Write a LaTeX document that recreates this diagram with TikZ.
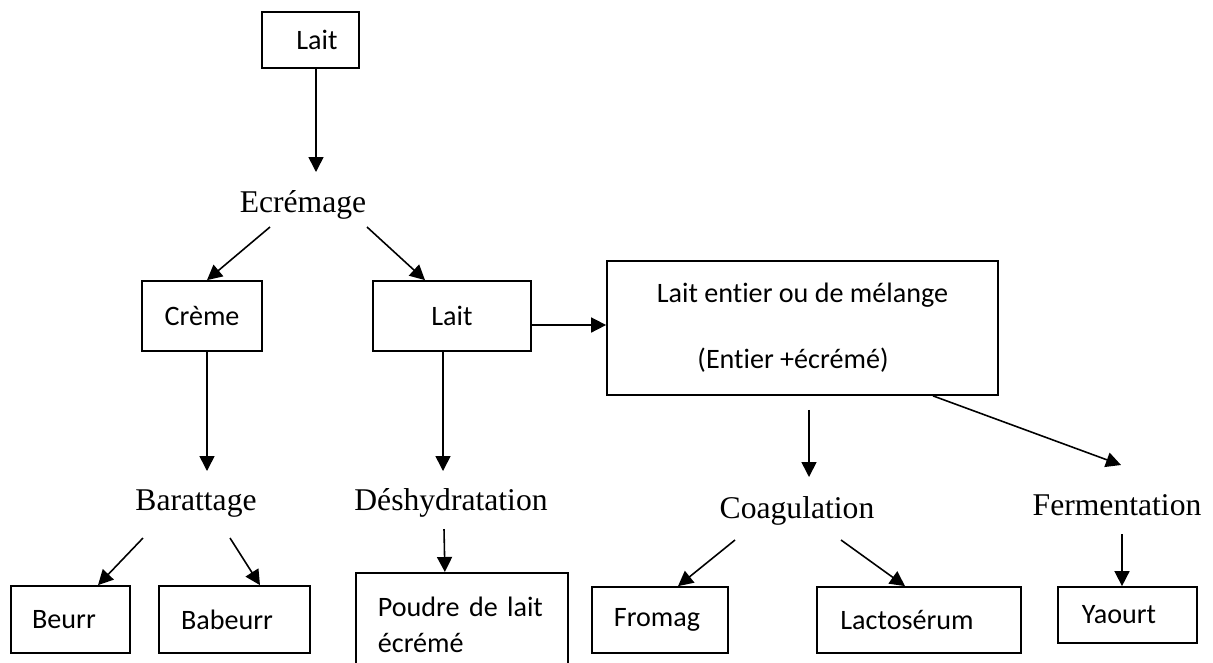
\documentclass[tikz,border=0pt]{standalone}
\usepackage{fontspec}
\setmainfont{Carlito}[Ligatures=NoCommon]
\newfontfamily\serif{Liberation Serif}
\usepackage{tikz}
\usetikzlibrary{arrows.meta,positioning}
\definecolor{ink}{HTML}{000000}
\tikzset{
  box/.style={draw=ink,line width=1pt,inner sep=0pt,align=center,font=\fontsize{16}{20}\selectfont},
  lbl/.style={inner sep=0pt,anchor=base,font=\serif\fontsize{18}{22}\selectfont},
  arr/.style={-{Triangle[length=3mm,width=3mm]},line width=0.9pt,color=ink}}
\begin{document}
\begin{tikzpicture}
\useasboundingbox (0,0) rectangle (24.26,-13.24);
\clip (0,0) rectangle (24.26,-13.24);
% first level
\node[box,minimum width=1.94cm,minimum height=1.12cm] (lait) at (6.21,-0.80) {\hspace*{0.26cm}Lait};
\node[lbl] (ecr) at (6.06,-4.24) {Ecrémage};
\node[box,minimum width=2.40cm,minimum height=1.40cm] (creme) at (4.04,-6.32) {Crème};
\node[box,minimum width=3.16cm,minimum height=1.40cm] (lait2) at (9.04,-6.32) {Lait};
\node[box,minimum width=7.82cm,minimum height=2.68cm] (melange) at (16.05,-6.56) {Lait entier ou de mélange\\[17.5pt]\hspace*{-0.38cm}(Entier +écrémé)};
% operations
\node[lbl] (barat) at (3.92,-10.20) {Barattage};
\node[lbl] (deshy) at (9.02,-10.20) {Déshydratation};
\node[lbl] (coag) at (15.94,-10.36) {Coagulation};
\node[lbl] (ferm) at (22.34,-10.30) {Fermentation};
% products
\node[box,minimum width=2.38cm,minimum height=1.34cm] (beurr) at (1.41,-12.39) {\hspace*{-0.26cm}Beurr};
\node[box,minimum width=3.02cm,minimum height=1.34cm] (babeurr) at (4.69,-12.39) {\hspace*{-0.30cm}Babeurr};
\node[box,anchor=north west,align=left,text width=3.36cm,inner xsep=0.44cm,minimum height=2.08cm] (poudre) at (7.10,-11.44) {Poudre de lait\\écrémé};
\node[box,minimum width=2.72cm,minimum height=1.32cm] (fromag) at (13.20,-12.40) {\hspace*{-0.12cm}Fromag};
\node[box,minimum width=4.08cm,minimum height=1.32cm] (lacto) at (18.38,-12.40) {\hspace*{-0.48cm}Lactosérum};
\node[box,minimum width=2.78cm,minimum height=1.12cm] (yaourt) at (22.55,-12.30) {\hspace*{-0.34cm}Yaourt};
% connectors
\draw[arr] ([xshift=0.11cm]lait.south) -- ([xshift=0.26cm,yshift=0.80cm]ecr.base);
\draw[arr] ([xshift=-0.66cm,yshift=-0.30cm]ecr.base) -- ([xshift=0.10cm]creme.north);
\draw[arr] ([xshift=1.28cm,yshift=-0.30cm]ecr.base) -- ([xshift=-0.54cm]lait2.north);
\draw[arr] ([yshift=-0.18cm]lait2.east) -- ([yshift=0.06cm]melange.west);
\draw[arr] ([xshift=0.10cm]creme.south) -- ([xshift=0.22cm,yshift=0.78cm]barat.base);
\draw[arr] ([xshift=-0.18cm]lait2.south) -- ([xshift=-0.16cm,yshift=0.78cm]deshy.base);
\draw[arr] ([xshift=-1.06cm,yshift=-0.56cm]barat.base) -- ([xshift=0.55cm]beurr.north);
\draw[arr] ([xshift=0.68cm,yshift=-0.56cm]barat.base) -- ([xshift=0.51cm]babeurr.north);
\draw[arr] ([xshift=-0.14cm,yshift=-0.38cm]deshy.base) -- ([xshift=-0.34cm]poudre.north);
\draw[arr] ([xshift=0.13cm,yshift=-0.28cm]melange.south) -- ([xshift=0.24cm,yshift=0.82cm]coag.base);
\draw[arr] ([xshift=2.61cm]melange.south) -- ([xshift=0.08cm,yshift=1.00cm]ferm.base);
\draw[arr] ([xshift=-1.24cm,yshift=-0.44cm]coag.base) -- ([xshift=0.36cm]fromag.north);
\draw[arr] ([xshift=0.88cm,yshift=-0.44cm]coag.base) -- ([xshift=-0.28cm]lacto.north);
\draw[arr] ([xshift=0.10cm,yshift=-0.38cm]ferm.base) -- ([xshift=-0.11cm]yaourt.north);
\end{tikzpicture}
\end{document}
